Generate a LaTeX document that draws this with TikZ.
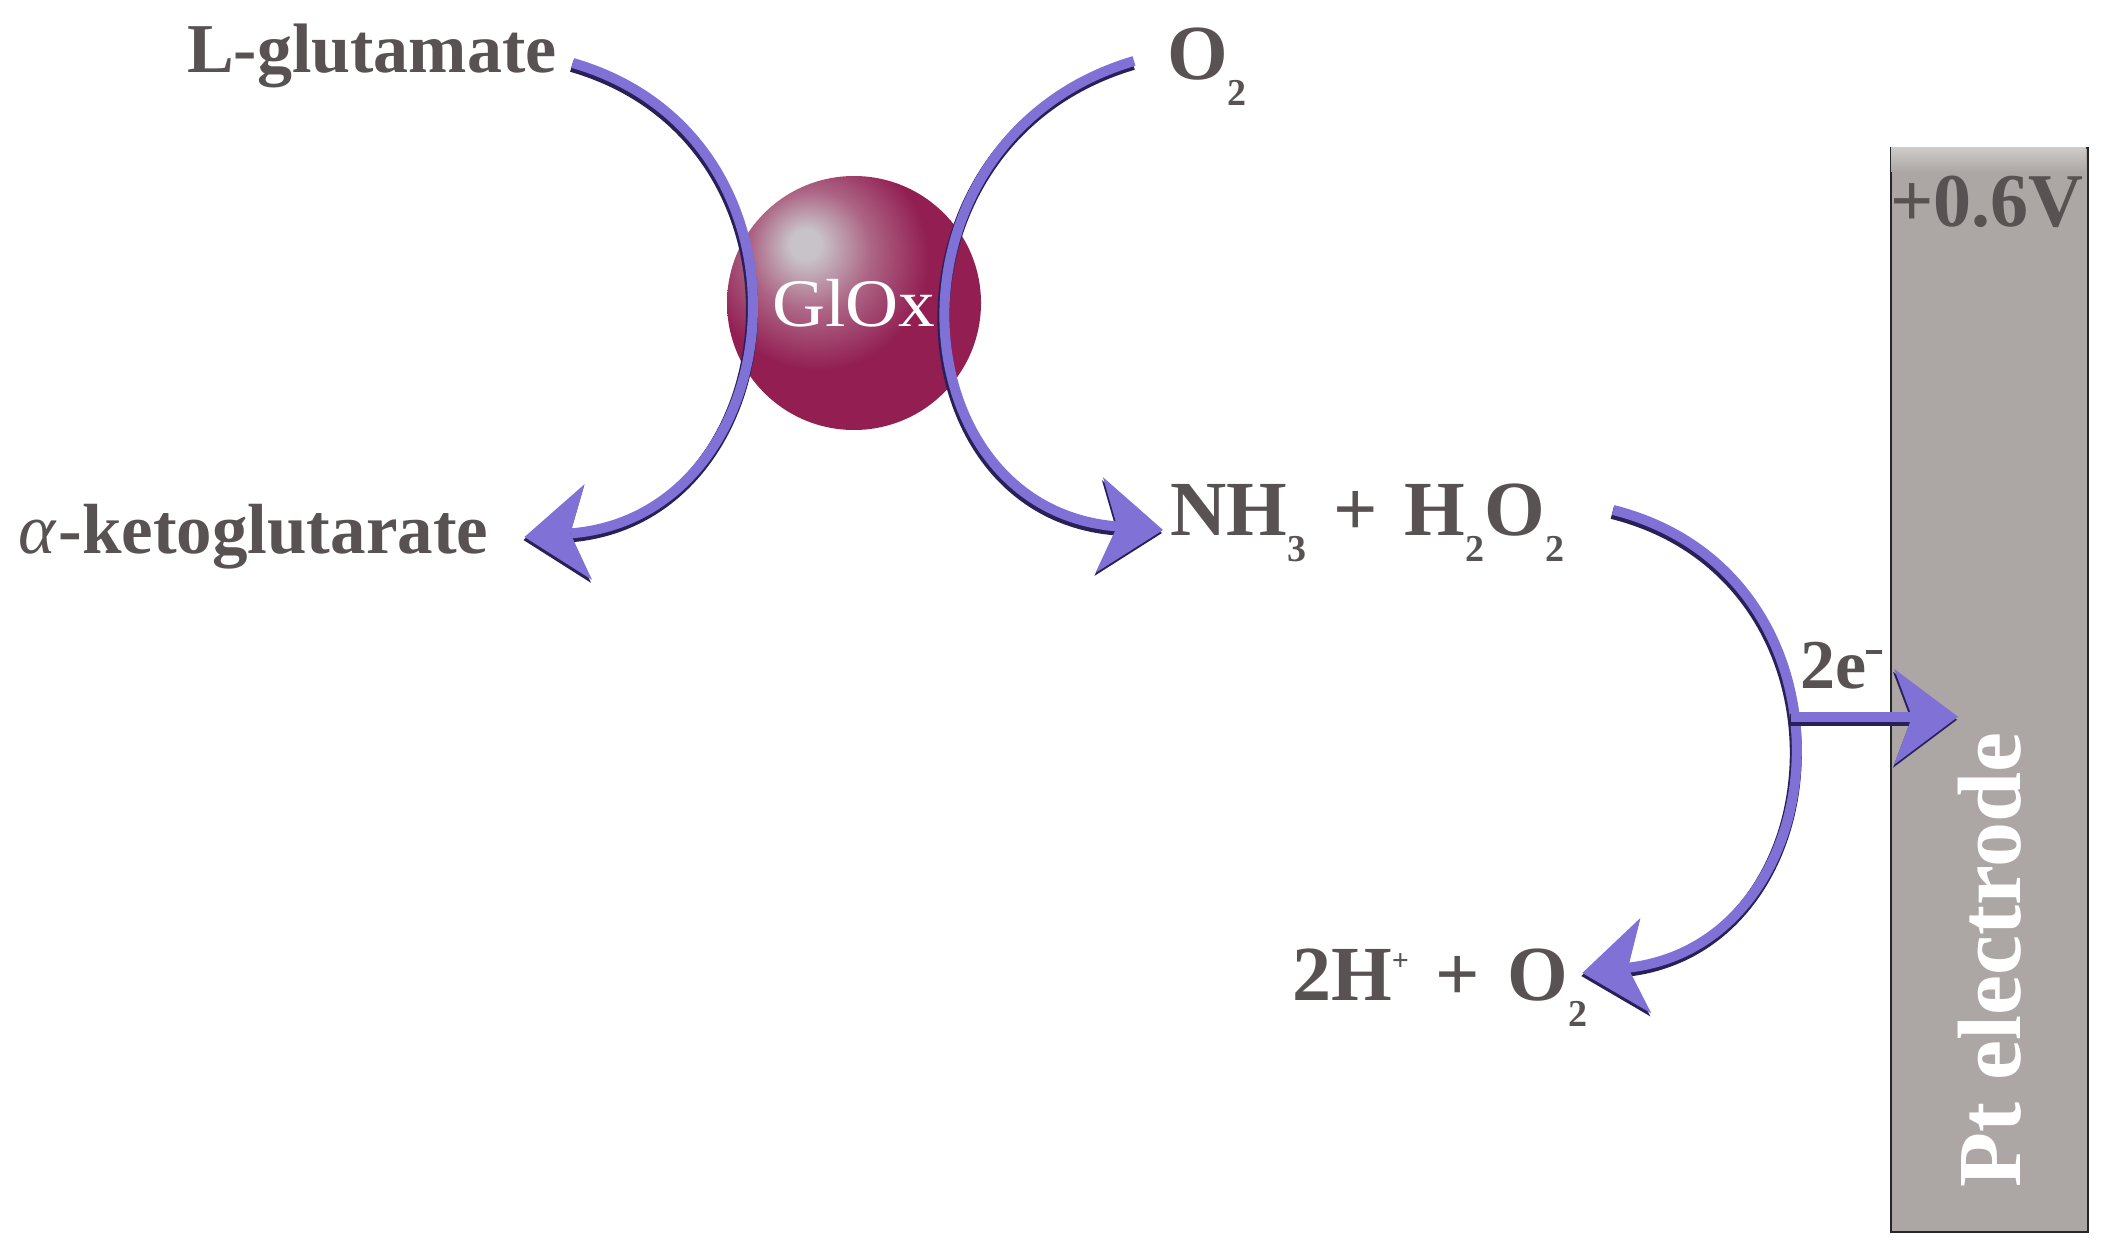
\documentclass[tikz,border=0pt]{standalone}
\usepackage{fontspec}
\setmainfont{Liberation Serif}
\newfontfamily\chemfont{Liberation Serif}[FakeStretch=1.08]
\usetikzlibrary{arrows.meta}
\definecolor{txt}{RGB}{89,82,82}
\definecolor{vio}{RGB}{128,113,214}
\definecolor{vioshadow}{RGB}{42,32,88}
\definecolor{elecfill}{RGB}{172,167,164}
\definecolor{electop}{RGB}{205,202,200}
\definecolor{gloxbase}{RGB}{146,30,82}
\definecolor{gloxhl}{RGB}{200,195,200}
\definecolor{gloxmid}{RGB}{172,100,132}
\pgfdeclareradialshading{gloxshade}{\pgfpoint{-10bp}{12bp}}{color(0bp)=(gloxhl); color(3bp)=(gloxhl); color(12bp)=(gloxmid); color(22bp)=(gloxbase); color(80bp)=(gloxbase)}
\newcommand{\chsub}[1]{\raisebox{-26pt}{\fontsize{38}{38}\selectfont #1}}
\newcommand{\chsup}[1]{\raisebox{30pt}{\fontsize{30}{30}\selectfont #1}}
\newcommand{\chsp}{\hspace{27pt}}
\tikzset{
  lbl/.style={inner sep=0pt, text=txt, font=\fontsize{70}{80}\selectfont\bfseries},
  chem/.style={inner sep=0pt, text=txt, font=\fontsize{78}{88}\selectfont\bfseries},
  tipstyle/.style={-{Stealth[length=64pt,width=96pt,inset=18pt,line width=0pt]}},
  flow/.style={tipstyle, line width=10pt, draw=vio},
  flowshadow/.style={tipstyle, line width=12pt, draw=vioshadow, transform canvas={shift={(-1,3)}}},
}
\begin{document}
\begin{tikzpicture}[x=1pt,y=-1pt]
\useasboundingbox (0,0) rectangle (2116,1257);
\fill[white] (0,0) rectangle (2116,1257);

% electrode
\node[draw=black!85, line width=2pt, fill=elecfill, minimum width=197pt, minimum height=1084pt, anchor=north west, inner sep=0pt] (elec) at (1890,147) {};
\shade[top color=electop, bottom color=elecfill] (1891,148) rectangle (2086,172);
\node[inner sep=0pt, anchor=base west, text=txt, font=\fontsize{76}{80}\selectfont\bfseries] (volt) at (1890,227) {+0.6V};
\node[inner sep=0pt, anchor=base west, rotate=90, text=white, font=\fontsize{90}{96}\selectfont\bfseries] (ptlab) at (2020,1188) {Pt electrode};
\coordinate (e2tip) at ([xshift=68]elec.west);

% enzyme
\node[circle, minimum size=254pt, inner sep=0pt, shade, shading=gloxshade, text=white, font=\fontsize{68}{72}\selectfont\chemfont] (glox) at (854,303) {GlOx};

% labels
\node[lbl, anchor=base west] (lglu) at (187,73) {L-glutamate};
\node[chem, anchor=base west] (otwo) at (1167,80) {O\chsub{2}};
\node[lbl, anchor=base west, font=\fontsize{71}{80}\selectfont\bfseries] (akg) at (18,553) {{\mdseries\itshape α}\hspace{3pt}-ketoglutarate};
\node[chem, anchor=base west] (prod) at (1170,535) {NH\chsub{3}\chsp+\chsp H\chsub{2}O\chsub{2}};
\node[chem, anchor=base west] (fin) at (1292,1000) {2H\chsup{+}\chsp+\chsp O\chsub{2}};
\node[lbl, anchor=base west] (elab) at (1800,688) {2e\raisebox{34pt}{\rule{16pt}{4pt}}};

% shadows
\draw[flowshadow] ([shift={(16,-10)}]lglu.base east) .. controls (832,138) and (794,516) .. ([shift={(36,-16)}]akg.base east);
\draw[flowshadow] ([shift={(-33,-19)}]otwo.base west) .. controls (874,138) and (894,509) .. ([shift={(-7,-5)}]prod.base west);
\draw[flowshadow] ([shift={(49,-25)}]prod.base east) .. controls (1868,574) and (1843,943) .. ([shift={(-5,-27)}]fin.base east);

% connectors
\draw[flow] ([shift={(16,-10)}]lglu.base east) .. controls (832,138) and (794,516) .. ([shift={(36,-16)}]akg.base east);
\draw[flow] ([shift={(-33,-19)}]otwo.base west) .. controls (874,138) and (894,509) .. ([shift={(-7,-5)}]prod.base west);
\draw[flow] ([shift={(49,-25)}]prod.base east) .. controls (1868,574) and (1843,943) .. ([shift={(-5,-27)}]fin.base east) coordinate[pos=0.44] (mid);
\draw[flowshadow] (mid) -- (mid -| e2tip);
\draw[flow] (mid) -- (mid -| e2tip);
\end{tikzpicture}
\end{document}
